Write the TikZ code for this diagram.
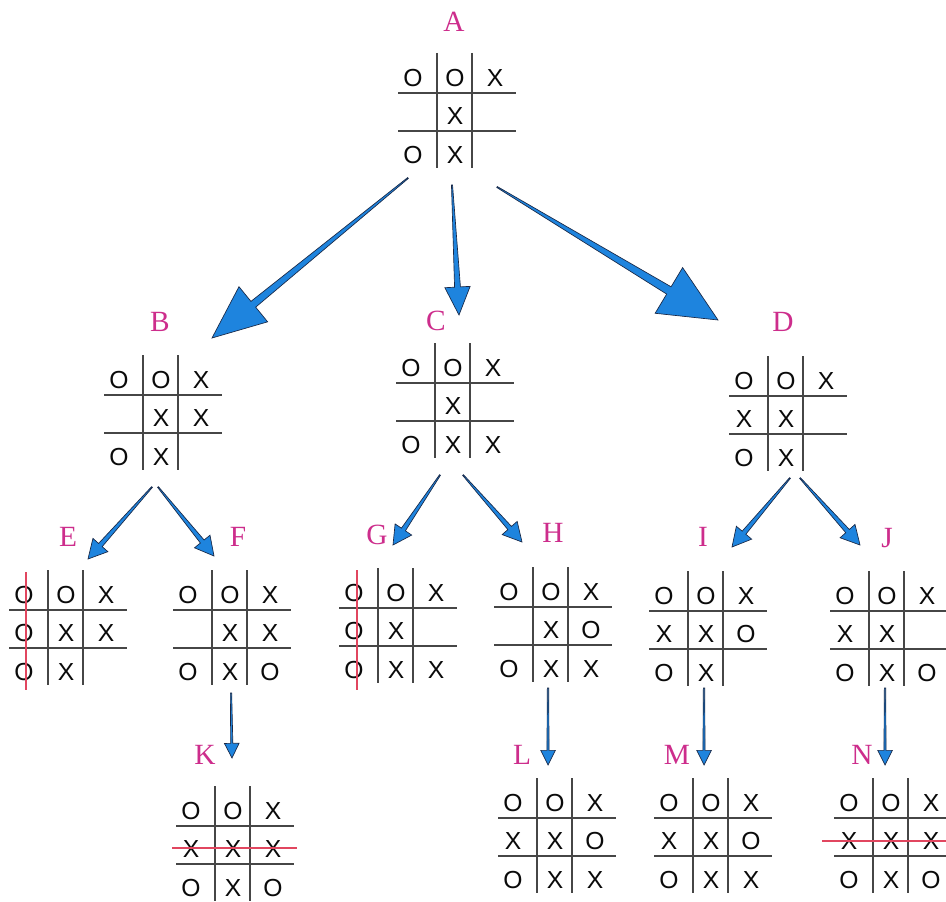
\documentclass[tikz,border=0pt]{standalone}
\usepackage{fontspec}
\usetikzlibrary{calc}
\newfontfamily\boardsans{Liberation Sans}
\newfontfamily\boardserif{Liberation Serif}
\definecolor{lblcol}{RGB}{205,45,140}
\definecolor{arrowfill}{RGB}{30,132,222}
\definecolor{arrowline}{RGB}{25,40,70}
\definecolor{gridcol}{RGB}{70,70,70}
\definecolor{redcol}{RGB}{225,70,95}
\definecolor{markcol}{RGB}{10,10,10}
\tikzset{
  tcell/.style={inner sep=0pt, text=markcol, font=\boardsans\fontsize{18.5}{18.5}\selectfont},
  lbl/.style={inner sep=0pt, text=lblcol, font=\boardserif\fontsize{22}{22}\selectfont},
  gridline/.style={draw=gridcol, line width=1.25pt},
  redline/.style={draw=redcol, line width=1.8pt},
  arrowst/.style={fill=arrowfill, draw=arrowline, line width=0.5pt, line join=miter},
}
% grid of a board: #1 = x of left vertical line, #2 = y of upper horizontal line
\newcommand\tttgrid[2]{%
  \draw[gridline] (#1,#2-40) -- (#1,#2+75);
  \draw[gridline] (#1+35,#2-40) -- (#1+35,#2+75);
  \draw[gridline] (#1-39,#2) -- (#1+79,#2);
  \draw[gridline] (#1-39,#2+38) -- (#1+79,#2+38);}
% one cell: #1 name, #2 x, #3 y, #4 mark
\newcommand\tttcell[4]{%
  \if\relax\detokenize{#4}\relax\else\node[tcell] (#1) at (#2,#3) {#4};\fi}
% one row: #1 name prefix, #2 a, #3 y, #4-#6 marks
\newcommand\tttrow[6]{%
  \tttcell{#1-1}{#2-24}{#3}{#4}%
  \tttcell{#1-2}{#2+18}{#3}{#5}%
  \tttcell{#1-3}{#2+58}{#3}{#6}}
% whole board: #1 name, #2 a, #3 b, #4 #5 #6 rows (each as {c1}{c2}{c3})
\newcommand\tttboard[6]{%
  \tttgrid{#2}{#3}%
  \tttrow{#1-r1}{#2}{#3-15}#4%
  \tttrow{#1-r2}{#2}{#3+23}#5%
  \tttrow{#1-r3}{#2}{#3+62}#6}
% tapered arrow: #1 name, #2 start, #3 tip, #4 start half width, #5 shaft half width, #6 head half width, #7 head length
\newcommand\taper[7]{%
  \coordinate (#1-base) at ($(#3)!#7!(#2)$);
  \filldraw[arrowst] ($(#2)!#4!90:(#3)$) -- ($(#1-base)!#5!90:(#3)$) -- ($(#1-base)!#6!90:(#3)$) -- (#3)
    -- ($(#1-base)!#6!-90:(#3)$) -- ($(#1-base)!#5!-90:(#3)$) -- ($(#2)!#4!-90:(#3)$) -- cycle;}
\begin{document}
\begin{tikzpicture}[x=0.75pt,y=-0.75pt]
\useasboundingbox (0,0) rectangle (946,902);
\fill[white] (0,0) rectangle (946,902);

% labels
\node[lbl] (A) at (454,22) {A};
\node[lbl] (B) at (160,322) {B};
\node[lbl] (C) at (436,321) {C};
\node[lbl] (D) at (783,322) {D};
\node[lbl] (E) at (68,537) {E};
\node[lbl] (F) at (238,537) {F};
\node[lbl] (G) at (377,535) {G};
\node[lbl] (H) at (553,533) {H};
\node[lbl] (I) at (703,537) {I};
\node[lbl] (J) at (887,538) {J};
\node[lbl] (K) at (205,755) {K};
\node[lbl] (L) at (522,755) {L};
\node[lbl] (M) at (677,755) {M};
\node[lbl] (N) at (862,755) {N};

% boards
\tttboard{bA}{437}{93}{{O}{O}{X}}{{}{X}{}}{{O}{X}{}}
\tttboard{bB}{143}{395}{{O}{O}{X}}{{}{X}{X}}{{O}{X}{}}
\tttboard{bC}{435}{383}{{O}{O}{X}}{{}{X}{}}{{O}{X}{X}}
\tttboard{bD}{768}{396}{{O}{O}{X}}{{X}{X}{}}{{O}{X}{}}
\tttboard{bE}{48}{610}{{O}{O}{X}}{{O}{X}{X}}{{O}{X}{}}
\tttboard{bF}{212}{610}{{O}{O}{X}}{{}{X}{X}}{{O}{X}{O}}
\tttboard{bG}{378}{608}{{O}{O}{X}}{{O}{X}{}}{{O}{X}{X}}
\tttboard{bH}{533}{607}{{O}{O}{X}}{{}{X}{O}}{{O}{X}{X}}
\tttboard{bI}{688}{611}{{O}{O}{X}}{{X}{X}{O}}{{O}{X}{}}
\tttboard{bJ}{869}{611}{{O}{O}{X}}{{X}{X}{}}{{O}{X}{O}}
\tttboard{bK}{215}{826}{{O}{O}{X}}{{X}{X}{X}}{{O}{X}{O}}
\tttboard{bL}{537}{818}{{O}{O}{X}}{{X}{X}{O}}{{O}{X}{X}}
\tttboard{bM}{693}{818}{{O}{O}{X}}{{X}{X}{O}}{{O}{X}{X}}
\tttboard{bN}{873}{818}{{O}{O}{X}}{{X}{X}{X}}{{O}{X}{O}}

% winning lines
\coordinate (rE1) at (26,572); \coordinate (rE2) at (26,690);
\coordinate (rG1) at (357,570); \coordinate (rG2) at (357,690);
\coordinate (rK1) at (172,848); \coordinate (rK2) at (297,848);
\coordinate (rN1) at (822,841); \coordinate (rN2) at (950,841);
\draw[redline] (rE1) -- (rE2);
\draw[redline] (rG1) -- (rG2);
\draw[redline] (rK1) -- (rK2);
\draw[redline] (rN1) -- (rN2);

% arrow end points
\coordinate (sAB) at (408,178); \coordinate (tAB) at (212,338);
\coordinate (sAC) at (452,185); \coordinate (tAC) at (459,315);
\coordinate (sAD) at (497,187); \coordinate (tAD) at (718,320);
\coordinate (sBE) at (152,487); \coordinate (tBE) at (88,559);
\coordinate (sBF) at (158,487); \coordinate (tBF) at (214,556);
\coordinate (sCG) at (440,475); \coordinate (tCG) at (393,545);
\coordinate (sCH) at (463,475); \coordinate (tCH) at (522,542);
\coordinate (sDI) at (790,478); \coordinate (tDI) at (732,547);
\coordinate (sDJ) at (800,478); \coordinate (tDJ) at (860,545);
\coordinate (sFK) at (231,693); \coordinate (tFK) at (232,758);
\coordinate (sHL) at (548,688); \coordinate (tHL) at (548,765);
\coordinate (sIM) at (704,688); \coordinate (tIM) at (704,765);
\coordinate (sJN) at (885,688); \coordinate (tJN) at (885,765);

% arrows
\taper{aAB}{sAB}{tAB}{0.4pt}{2.8pt}{17pt}{40pt}
\taper{aAC}{sAC}{tAC}{0.4pt}{2.2pt}{9.5pt}{21pt}
\taper{aAD}{sAD}{tAD}{0.4pt}{3.2pt}{20pt}{43pt}
\taper{aBE}{sBE}{tBE}{0.4pt}{1.8pt}{7.5pt}{14pt}
\taper{aBF}{sBF}{tBF}{0.4pt}{1.8pt}{7.5pt}{14pt}
\taper{aCG}{sCG}{tCG}{0.4pt}{1.8pt}{7.5pt}{14pt}
\taper{aCH}{sCH}{tCH}{0.4pt}{1.8pt}{7.5pt}{14pt}
\taper{aDI}{sDI}{tDI}{0.4pt}{1.8pt}{7.5pt}{14pt}
\taper{aDJ}{sDJ}{tDJ}{0.4pt}{1.8pt}{7.5pt}{14pt}
\taper{aFK}{sFK}{tFK}{0.5pt}{0.8pt}{5.5pt}{11pt}
\taper{aHL}{sHL}{tHL}{0.5pt}{0.8pt}{5.5pt}{11pt}
\taper{aIM}{sIM}{tIM}{0.5pt}{0.8pt}{5.5pt}{11pt}
\taper{aJN}{sJN}{tJN}{0.5pt}{0.8pt}{5.5pt}{11pt}
\end{tikzpicture}
\end{document}
